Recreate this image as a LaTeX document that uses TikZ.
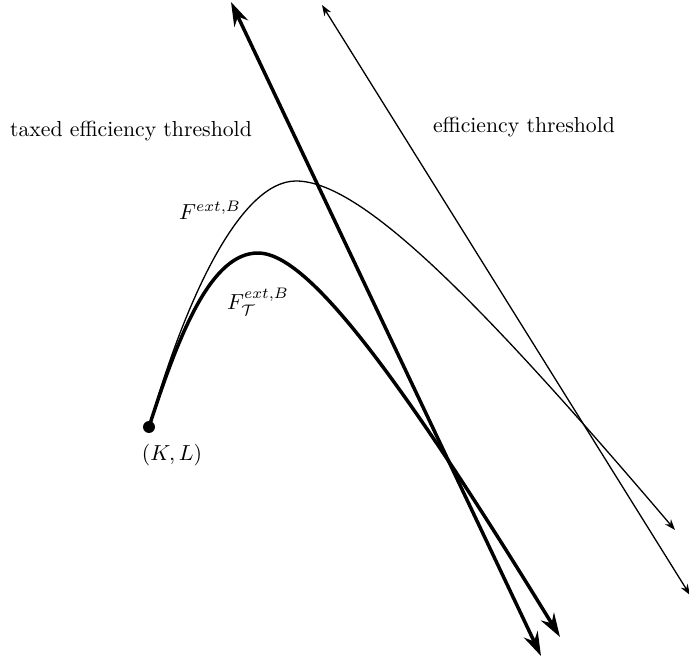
\documentclass[tikz,border=0pt]{standalone}
\usepackage{amssymb}
\usepackage{amsmath}
\usetikzlibrary{arrows.meta, positioning}

\begin{document}
\begin{tikzpicture}[x=0.46pt,y=-0.46pt,
  thinline/.style={semithick,{Stealth[length=5pt,width=3.6pt]}-{Stealth[length=5pt,width=3.6pt]}},
  thickline/.style={line width=1.6pt,{Stealth[length=11pt,width=7pt]}-{Stealth[length=11pt,width=7pt]}}]
\useasboundingbox (0,0) rectangle (689,664);

\node[circle,fill,inner sep=0pt,minimum size=5.5pt] (KL) at (149,427) {};
\node (KLlab) at (172,455) {$(K,L)$};

\coordinate (Tt) at (231,2);
\coordinate (Tb) at (541,656);
\coordinate (Et) at (322,5);
\coordinate (Eb) at (690,595);
\coordinate (Ftop) at (296,181);
\coordinate (Fend) at (675,530);
\coordinate (Gtop) at (258,253);
\coordinate (Gend) at (560,637);

\node (taxlab) at (131,131) {taxed efficiency threshold};
\node (efflab) at (524,127) {efficiency threshold};
\node (Flab) at (210,210) {$F^{ext,B}$};
\node (Glab) at (258,302) {$F^{ext,B}_{\mathcal{T}}$};

\draw[thickline] (Tt) -- (Tb);
\draw[thinline] (Et) -- (Eb);
\draw[semithick,-{Stealth[length=5pt,width=3.6pt]}] (KL.center) .. controls (185,300) and (240,181) .. (Ftop)
  .. controls (360,181) and (475,295) .. (Fend);
\draw[line width=1.6pt,-{Stealth[length=11pt,width=7pt]}] (KL.center) .. controls (180,330) and (212,253) .. (Gtop)
  .. controls (305,253) and (390,360) .. (Gend);
\end{tikzpicture}
\end{document}
